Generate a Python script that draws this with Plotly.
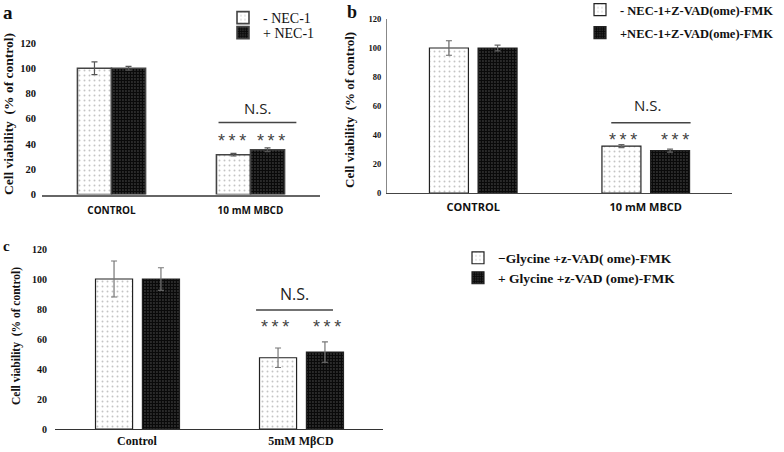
import plotly.graph_objects as go

# ---------------- data ----------------
cats_a = ["CONTROL", "10 mM MBCD"]
minus_a = [100, 31.5]
minus_a_err = [5, 1]
plus_a = [100, 35.5]
plus_a_err = [1.5, 1.5]
names_a = ["- NEC-1", "+ NEC-1"]

cats_b = ["CONTROL", "10 mM MBCD"]
minus_b = [100, 32.3]
minus_b_err = [5, 1]
plus_b = [100, 29.2]
plus_b_err = [2, 1]
names_b = ["- NEC-1+Z-VAD(ome)-FMK", "+NEC-1+Z-VAD(ome)-FMK"]

cats_c = ["Control", "5mM MβCD"]
minus_c = [100, 47.5]
minus_c_err = [12, 6.5]
plus_c = [100, 51.3]
plus_c_err = [7.5, 6.8]
names_c = ["\u2212Glycine +z-VAD( ome)-FMK", "+ Glycine +z-VAD (ome)-FMK"]

y_ticks = [0, 20, 40, 60, 80, 100, 120]
sig_label = "N.S."
star_label = "*\u2009*\u2009*"
y_title = "Cell viability  (% of control)"

W, H = 784, 452
SERIF = "Liberation Serif, Times New Roman, serif"
SANS = "Open Sans, Liberation Sans, sans-serif"


def px(x):
    return x / W


def py(y):
    return 1 - y / H


LIGHT = dict(color="white", pattern=dict(shape=".", fgcolor="#8a8a8a", bgcolor="white",
                                         size=5, solidity=0.12, fillmode="overlay"))
DARK = dict(color="#111111", pattern=dict(shape=".", fgcolor="#0a0a0a", bgcolor="#6a6a6a",
                                          size=3, solidity=0.8, fillmode="replace"))

fig = go.Figure()

panels = [
    dict(x="x", y="y", cats=cats_a, m=minus_a, me=minus_a_err, p=plus_a, pe=plus_a_err,
         names=names_a, legends=("legend", "legend2"), w=0.245, off=(-0.245, 0.0), lw=1.6, lc="#444",
         ec="#555"),
    dict(x="x2", y="y2", cats=cats_b, m=minus_b, me=minus_b_err, p=plus_b, pe=plus_b_err,
         names=names_b, legends=("legend3", "legend4"), w=0.226, off=(-0.254, 0.028), lw=1.2, lc="#222",
         ec="#666"),
    dict(x="x3", y="y3", cats=cats_c, m=minus_c, me=minus_c_err, p=plus_c, pe=plus_c_err,
         names=names_c, legends=("legend5", "legend6"), w=0.226, off=(-0.253, 0.033), lw=1.2, lc="#222",
         ec="#777"),
]

for i, P in enumerate(panels):
    for j, (vals, errs, style) in enumerate([(P["m"], P["me"], LIGHT), (P["p"], P["pe"], DARK)]):
        fig.add_trace(go.Bar(
            x=P["cats"], y=vals, name=P["names"][j],
            xaxis=P["x"], yaxis=P["y"], legend=P["legends"][j],
            width=P["w"], offset=P["off"][j],
            marker=dict(color=style["color"], pattern=style["pattern"],
                        line=dict(color=P["lc"], width=P["lw"])),
            error_y=dict(type="data", array=errs, color=P["ec"], thickness=1.2, width=3),
        ))

# axes
common_y = dict(range=[0, 120], tickvals=y_ticks, showgrid=False, zeroline=False, ticks="",
                fixedrange=True)


def leg(x_text, y_center, size, weight="normal"):
    return dict(x=px(x_text - 42), y=py(y_center), xanchor="left", yanchor="middle",
                bgcolor="rgba(0,0,0,0)", borderwidth=0,
                font=dict(family=SERIF, size=size, color="#111", weight=weight))


fig.update_layout(
    width=W, height=H, margin=dict(l=0, r=0, t=0, b=0, autoexpand=False),
    paper_bgcolor="white", plot_bgcolor="white", barmode="overlay",
    xaxis=dict(domain=[px(42), px(320)], anchor="y", showline=True, linecolor="#666",
               linewidth=1.5, ticks="", ticklabelstandoff=6,
               tickfont=dict(family=SANS, size=10, color="#111", weight="bold")),
    yaxis=dict(domain=[py(194.5), py(43)], anchor="x", showline=False,
               tickfont=dict(family=SERIF, size=10.5, color="#111", weight="bold"),
               ticklabelstandoff=5, **common_y),
    xaxis2=dict(domain=[px(387), px(732)], anchor="y2", showline=True, linecolor="#444",
                linewidth=1.2, ticks="", ticklabelstandoff=4,
                tickfont=dict(family=SANS, size=11, color="#111", weight="bold")),
    yaxis2=dict(domain=[py(193), py(19)], anchor="x2", showline=True, linecolor="#888",
                linewidth=1, tickfont=dict(family=SERIF, size=8.5, color="#111", weight="bold"),
                ticklabelstandoff=3, **common_y),
    xaxis3=dict(domain=[px(55), px(383)], anchor="y3", showline=True, linecolor="#333",
                linewidth=1.2, ticks="", tickfont=dict(family=SERIF, size=12, color="#111", weight="bold")),
    yaxis3=dict(domain=[py(429), py(249)], anchor="x3", showline=False,
                tickfont=dict(family=SERIF, size=10, color="#111", weight="bold"),
                ticklabelstandoff=7, **common_y),
    legend=leg(265, 18, 14),
    legend2=leg(265, 33, 14),
    legend3=leg(622, 10, 12.5, "bold"),
    legend4=leg(622, 33, 12.5, "bold"),
    legend5=leg(500, 258, 13.5, "bold"),
    legend6=leg(500, 278, 13.5, "bold"),
    showlegend=True,
)

ann = []
shapes = []
# significance annotations (data coordinates, category index 1)
sig = [
    dict(x="x", y="y", ns_y=68.5, ns_x=1.05, line_y=57, line_x=(0.77, 1.33), star_y=51.5,
         star_x=(1 - 0.13, 1 + 0.15), ns_size=15, star_size=18),
    dict(x="x2", y="y2", ns_y=60.5, ns_x=1.01, line_y=48.5, line_x=(0.80, 1.26), star_y=44.5,
         star_x=(1 - 0.13, 1 + 0.17), ns_size=15, star_size=18),
    dict(x="x3", y="y3", ns_y=90, ns_x=0.96, line_y=79.3, line_x=(0.726, 1.195), star_y=76,
         star_x=(1 - 0.16, 1 + 0.16), ns_size=16, star_size=18),
]
for s in sig:
    ann.append(dict(x=s["ns_x"], y=s["ns_y"], xref=s["x"], yref=s["y"], text=sig_label,
                    showarrow=False, font=dict(family=SANS, size=s["ns_size"], color="#222")))
    for sx in s["star_x"]:
        ann.append(dict(x=sx, y=s["star_y"], xref=s["x"], yref=s["y"], text=star_label,
                        yanchor="top", showarrow=False,
                        font=dict(family="Liberation Sans", size=s["star_size"], color="#444")))
    shapes.append(dict(type="line", xref=s["x"], yref=s["y"], x0=s["line_x"][0], x1=s["line_x"][1],
                       y0=s["line_y"], y1=s["line_y"], line=dict(color="#444", width=1.5)))

# y-axis titles
for (xx, yy, size) in [(8, 114, 13.5), (349, 110, 13), (16, 336, 11.5)]:
    ann.append(dict(x=px(xx), y=py(yy), xref="paper", yref="paper", xanchor="center", yanchor="middle",
                    text=y_title, textangle=-90, showarrow=False,
                    font=dict(family=SERIF, size=size, color="#111", weight="bold")))

# panel letters (anchored at their top edge so they stay inside the page)
for (letter, xx, yy, size) in [("a", 8, 0, 19), ("b", 352, 0, 18), ("c", 6, 236, 15)]:
    ann.append(dict(x=px(xx), y=py(yy), xref="paper", yref="paper", xanchor="center", yanchor="top",
                    text=letter, showarrow=False,
                    font=dict(family=SERIF, size=size, color="#111", weight="bold")))

fig.update_layout(annotations=ann, shapes=shapes)
fig.write_html("out.html", config={"displayModeBar": False},
               post_script="document.body.style.margin='0';document.body.style.padding='0';")
